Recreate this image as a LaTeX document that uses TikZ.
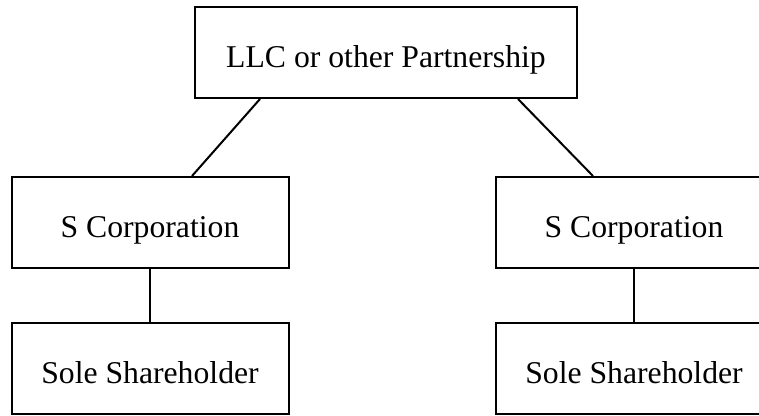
\documentclass[tikz,border=0pt]{standalone}
\usepackage{fontspec}
\setmainfont{Liberation Serif}
\usetikzlibrary{calc}
\begin{document}
\begin{tikzpicture}[x=1pt,y=-1pt,
  entity/.style={draw=black, line width=2pt, rectangle, inner sep=0pt,
    minimum width=277pt, minimum height=91pt,
    text height=30pt, text depth=0pt,
    font=\fontsize{31.7}{38}\selectfont},
  link/.style={draw=black, line width=2pt}]
  \clip (0,0) rectangle (759,415);
  \fill[white] (0,0) rectangle (759,415);

  % partnership at the top
  \node[entity, minimum width=382pt] (llc) at (386,52.5) {LLC or other Partnership};

  % corporations owning the partnership
  \node[entity] (scl) at (150,222.5) {S Corporation};
  \node[entity] (scr) at (634,222.5) {S Corporation};

  % shareholders of each corporation
  \node[entity, minimum height=90.5pt] (shl) at (150,368.25) {Sole Shareholder};
  \node[entity, minimum height=90.5pt] (shr) at (634,368.25) {Sole Shareholder};

  % ownership links
  \draw[link] ($(llc.south)+(-126,0)$) -- ($(scl.north)+(42,0)$);
  \draw[link] ($(llc.south)+(132,0)$) -- ($(scr.north)+(-41,0)$);
  \draw[link] (scl.south) -- (shl.north);
  \draw[link] (scr.south) -- (shr.north);
\end{tikzpicture}
\end{document}
